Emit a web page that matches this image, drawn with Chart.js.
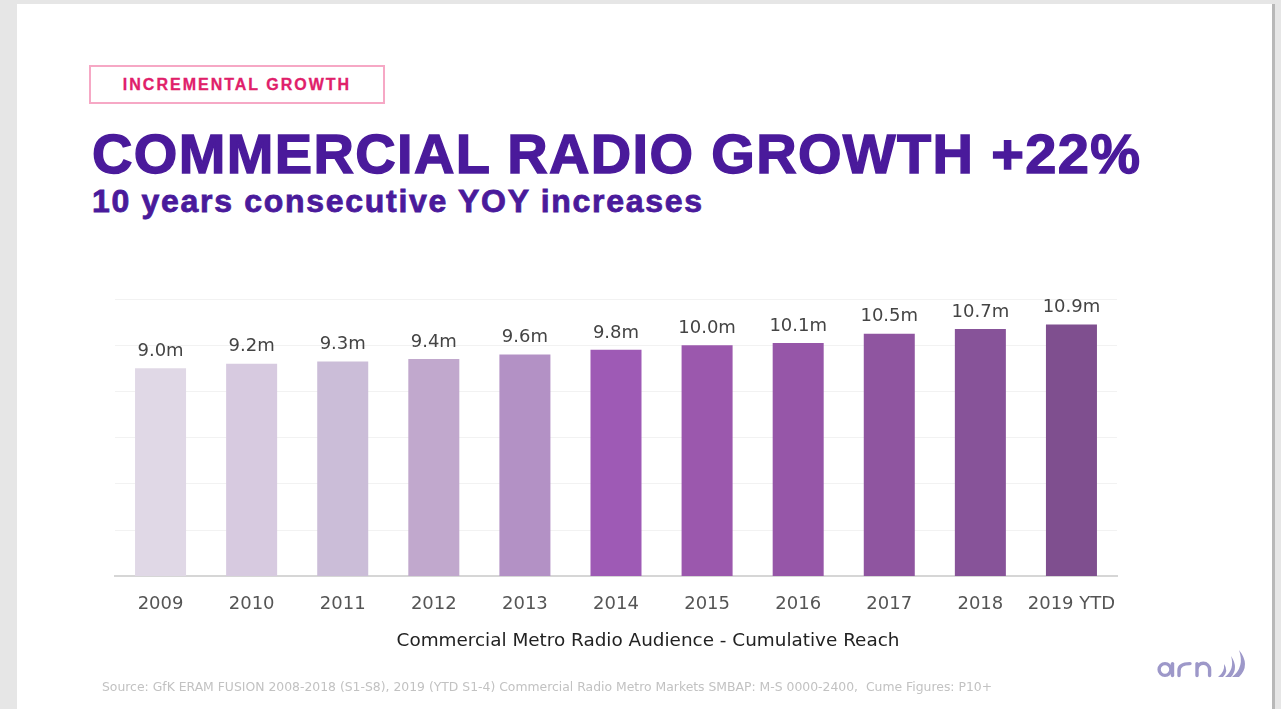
<!DOCTYPE html>
<html>
<head>
<meta charset="utf-8">
<script src="https://cdn.jsdelivr.net/npm/chart.js@4.4.1/dist/chart.umd.min.js"></script>
<style>
  html, body { margin: 0; padding: 0; }
  body { width: 1281px; height: 709px; background: #e6e6e6; position: relative; overflow: hidden; }
  .slide { position: absolute; left: 17px; top: 4px; width: 1255px; height: 705px; background: #fff; border-right: 3px solid #b8b8b8; }
  .tag { position: absolute; left: 89px; top: 65px; width: 292px; height: 35px; border: 2px solid #f6a8c5;
         font: bold 16px "Liberation Sans", Arial, sans-serif; letter-spacing: 2px; color: #e0206a;
         -webkit-text-stroke: 0.3px #e0206a; line-height: 35px; text-align: center; }
  .title { position: absolute; left: 92px; top: 121px; font: bold 56px "Liberation Sans", Arial, sans-serif;
           color: #4a1a9b; -webkit-text-stroke: 1.4px #4a1a9b; letter-spacing: 1.35px; white-space: nowrap; }
  .subtitle { position: absolute; left: 92px; top: 183px; font: bold 32px "Liberation Sans", Arial, sans-serif;
              color: #4a1a9b; -webkit-text-stroke: 0.8px #4a1a9b; letter-spacing: 1.7px; white-space: nowrap; }
  .axis-title { position: absolute; left: 348px; width: 600px; top: 629px; text-align: center;
                font: 18.4px "DejaVu Sans", sans-serif; color: #222; white-space: nowrap; }
  .source { position: absolute; left: 102px; top: 679px; font: 12.4px "DejaVu Sans", sans-serif;
            color: #c2c2c2; white-space: nowrap; }
  .logo { position: absolute; left: 1154px; top: 646px; }
  #wrap { position: absolute; left: 0; top: 0; width: 1281px; height: 709px; }
</style>
</head>
<body>
<div class="slide"></div>
<div class="tag">INCREMENTAL GROWTH</div>
<div class="title">COMMERCIAL RADIO GROWTH +22%</div>
<div class="subtitle">10 years consecutive YOY increases</div>
<div id="wrap"><canvas id="reachChart"></canvas></div>
<div class="axis-title">Commercial Metro Radio Audience - Cumulative Reach</div>
<div class="source">Source: GfK ERAM FUSION 2008-2018 (S1-S8), 2019 (YTD S1-4) Commercial Radio Metro Markets SMBAP: M-S 0000-2400,&nbsp; Cume Figures: P10+</div>
<svg class="logo" width="100" height="40" viewBox="0 0 100 40">
  <g stroke="#9d98c9" stroke-width="3.4" fill="none" stroke-linecap="round">
    <circle cx="11" cy="23.5" r="5.9"/>
    <path d="M18.5 17.6 V29.6"/>
    <path d="M25 29.6 V24.5 Q25 17.6 36 17.6"/>
    <path d="M43 29.6 V17.6 M43 23.6 A6.3 6.3 0 0 1 55.6 23.6 V29.6"/>
  </g>
  <g fill="#9d98c9">
    <path d="M64 31 Q71 26 70 18 Q75 25 69 31 Z"/>
    <path d="M71 31 Q81 23 77 10 Q85 22 77 31 Z"/>
    <path d="M78 31 Q91 21 85 4 Q97 19 85 31 Z"/>
  </g>
</svg>
<script>
document.addEventListener('DOMContentLoaded', function () {
    const ctx = document.getElementById('reachChart').getContext('2d');

    const years = ['2009', '2010', '2011', '2012', '2013', '2014', '2015', '2016', '2017', '2018', '2019 YTD'];
    const reach = [9.0, 9.2, 9.3, 9.4, 9.6, 9.8, 10.0, 10.1, 10.5, 10.7, 10.9]; // millions
    const barColours = ['#e0d8e6', '#d7cae0', '#cbbdd8', '#c1a8cd', '#b391c5', '#9e5ab5',
                        '#9b58ad', '#9656a8', '#8f55a0', '#875399', '#7f4f8f'];

    // value labels above each bar, e.g. "9.0m"
    const barLabels = {
        id: 'barLabels',
        afterDatasetsDraw(chart) {
            const c = chart.ctx;
            const meta = chart.getDatasetMeta(0);
            c.save();
            c.font = '18px "DejaVu Sans", sans-serif';
            c.fillStyle = '#444444';
            c.textAlign = 'center';
            c.textBaseline = 'bottom';
            meta.data.forEach(function (bar, i) {
                c.fillText(reach[i].toFixed(1) + 'm', bar.x, bar.y - 8);
            });
            c.restore();
        }
    };

    new Chart(ctx, {
        type: 'bar',
        data: {
            labels: years,
            datasets: [{
                label: 'Cumulative Reach',
                data: reach,
                backgroundColor: barColours,
                borderWidth: 0,
                barPercentage: 0.7,
                categoryPercentage: 0.8
            }]
        },
        options: {
            responsive: true,
            maintainAspectRatio: false,
            animation: false,
            layout: { padding: { left: 115, right: 164, top: 299, bottom: 77 } },
            plugins: {
                legend: { display: false },
                tooltip: { enabled: false }
            },
            scales: {
                x: {
                    grid: { display: false, drawTicks: false },
                    border: { color: '#d6d6d6', width: 2 },
                    ticks: {
                        color: '#555555',
                        padding: 17,
                        maxRotation: 0,
                        autoSkip: false,
                        font: { family: '"DejaVu Sans", sans-serif', size: 18 }
                    }
                },
                y: {
                    min: 0,
                    max: 12,
                    ticks: { display: false, stepSize: 2 },
                    grid: { color: '#f2f2f2', drawTicks: false },
                    border: { display: false }
                }
            }
        },
        plugins: [barLabels]
    });
});
</script>
</body>
</html>
